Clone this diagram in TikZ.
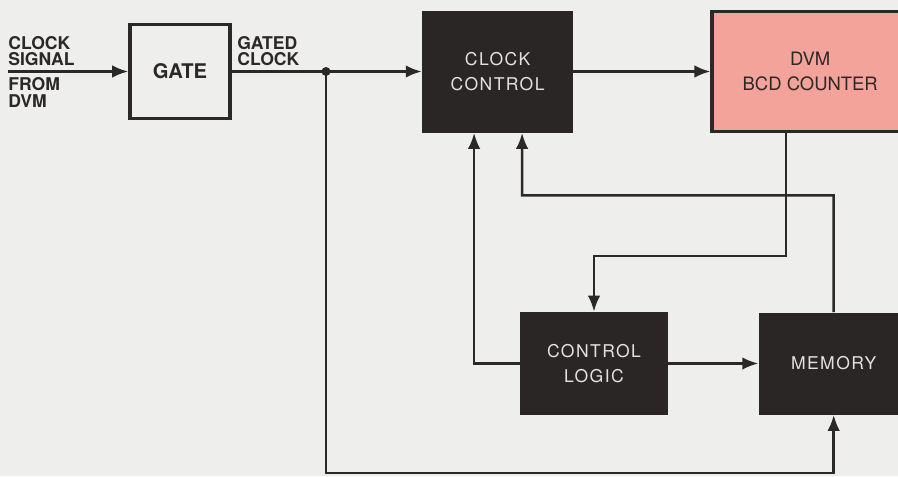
\documentclass[tikz,border=0pt]{standalone}
\usepackage{fontspec}
\setmainfont{TeX Gyre Heros}
\newfontfamily\spacedfont[LetterSpace=8]{TeX Gyre Heros}
\usepackage{tikz}
\usetikzlibrary{arrows.meta, positioning, calc}
\definecolor{paperbg}{HTML}{EEEEEC}
\definecolor{inkdark}{HTML}{2B2828}
\definecolor{boxblack}{HTML}{2A2626}
\definecolor{boxtext}{HTML}{E4E2E0}
\definecolor{salmon}{HTML}{F4A39A}
\tikzset{
  openbox/.style={draw=inkdark, fill=paperbg, line width=2pt, align=center,
    minimum width=2.0cm, minimum height=1.88cm, font=\fontsize{11.5}{12}\selectfont\bfseries, text=inkdark},
  blackbox/.style={draw=none, fill=boxblack, align=center, inner sep=0pt,
    font=\spacedfont\fontsize{10}{14}\selectfont, text=boxtext},
  dvmbox/.style={draw=inkdark, fill=salmon, line width=2pt, align=center, inner sep=0pt,
    font=\fontsize{10.5}{14.5}\selectfont, text=inkdark},
  sidelabel/.style={align=left, inner sep=0pt, font=\fontsize{10}{9.6}\selectfont\bfseries, text=inkdark},
  flow/.style={-{Latex[length=3.2mm, width=2.5mm]}, draw=inkdark, line width=1.4pt},
}
\begin{document}
\begin{tikzpicture}[node distance=3.8cm]
\fill[paperbg] (0,0) rectangle (17.96,-9.52);
\useasboundingbox (0,0) rectangle (17.96,-9.52);
\clip (0,0) rectangle (17.96,-9.52);
% top row
\node[openbox] (gate) at (3.6,-1.43) {GATE};
\node[blackbox, minimum width=3.02cm, minimum height=2.44cm, right=3.8cm of gate] (ctrl) {CLOCK\\CONTROL};
\node[dvmbox, minimum width=3.92cm, minimum height=2.4cm, right=2.74cm of ctrl] (dvm) {DVM\\BCD COUNTER};
% bottom row
\node[blackbox, minimum width=2.96cm, minimum height=2.06cm] (logic) at (11.88,-7.27) {CONTROL\\LOGIC};
\node[blackbox, minimum width=3.0cm, minimum height=2.04cm, right=1.8cm of logic] (mem) {MEMORY};
% input side
\coordinate (in) at (0.16,-1.43);
\coordinate (jn) at (6.52,-1.43);
\node[sidelabel, anchor=south west] (sig) at (0.16,-1.33) {CLOCK\\SIGNAL};
\node[sidelabel, anchor=north west] (src) at (0.16,-1.55) {FROM\\DVM};
\node[sidelabel, anchor=south west] (gated) at (4.74,-1.33) {GATED\\CLOCK};
% connectors
\draw[flow] (in) -- (gate.west);
\draw[flow] (gate.east) -- (ctrl.west);
\fill[inkdark] (jn) circle (0.09);
\draw[flow] (ctrl.east) -- (dvm.west);
\draw[flow] ([xshift=-0.48cm]dvm.south) -- ++(0,-2.45) -| (logic.north);
\draw[flow] (logic.west) -| ([xshift=-0.47cm]ctrl.south);
\draw[flow] (mem.north) |- ($(ctrl.south)+(0.49,-1.25)$) -- ([xshift=0.49cm]ctrl.south);
\draw[flow] (jn) -- ++(0,-8.03) -| (mem.south);
\draw[flow] (logic.east) -- (mem.west);
\end{tikzpicture}
\end{document}
